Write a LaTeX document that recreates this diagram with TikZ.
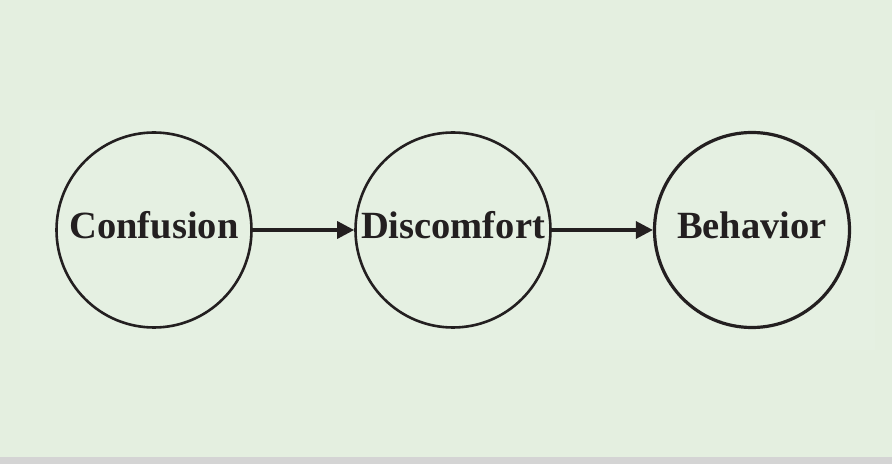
\documentclass[tikz,border=0pt]{standalone}
\usepackage{fontspec}
\setmainfont{Liberation Serif}
\usetikzlibrary{arrows.meta}
\definecolor{bgout}{HTML}{E4EFE0}
\definecolor{bgin}{HTML}{E5F0E2}
\definecolor{shadowgray}{HTML}{D4D4D4}
\definecolor{ink}{HTML}{231F20}
\tikzset{
  stage/.style={circle, draw=ink, line width=2.6pt, minimum size=195pt, inner sep=0pt,
    font=\bfseries\fontsize{38.5}{40}\selectfont, text=ink, text height=17pt, text depth=0pt},
  flow/.style={draw=ink, line width=3.3pt, -{Triangle[length=17pt,width=17pt]}}
}
\begin{document}
\begin{tikzpicture}[x=1pt,y=1pt]
\useasboundingbox (0,0) rectangle (892,464);
\fill[bgout] (0,0) rectangle (892,464);
\fill[bgin] (20,114) rectangle (875,354);
\fill[shadowgray] (0,0) rectangle (892,7);
\node[stage] (conf) at (154,234) {Confusion};
\node[stage] (disc) at (453,234) {Discomfort};
\node[stage, line width=3.2pt] (beh) at (752,234) {Behavior};
\draw[flow] (conf) -- (disc);
\draw[flow] (disc) -- (beh);
\end{tikzpicture}
\end{document}
